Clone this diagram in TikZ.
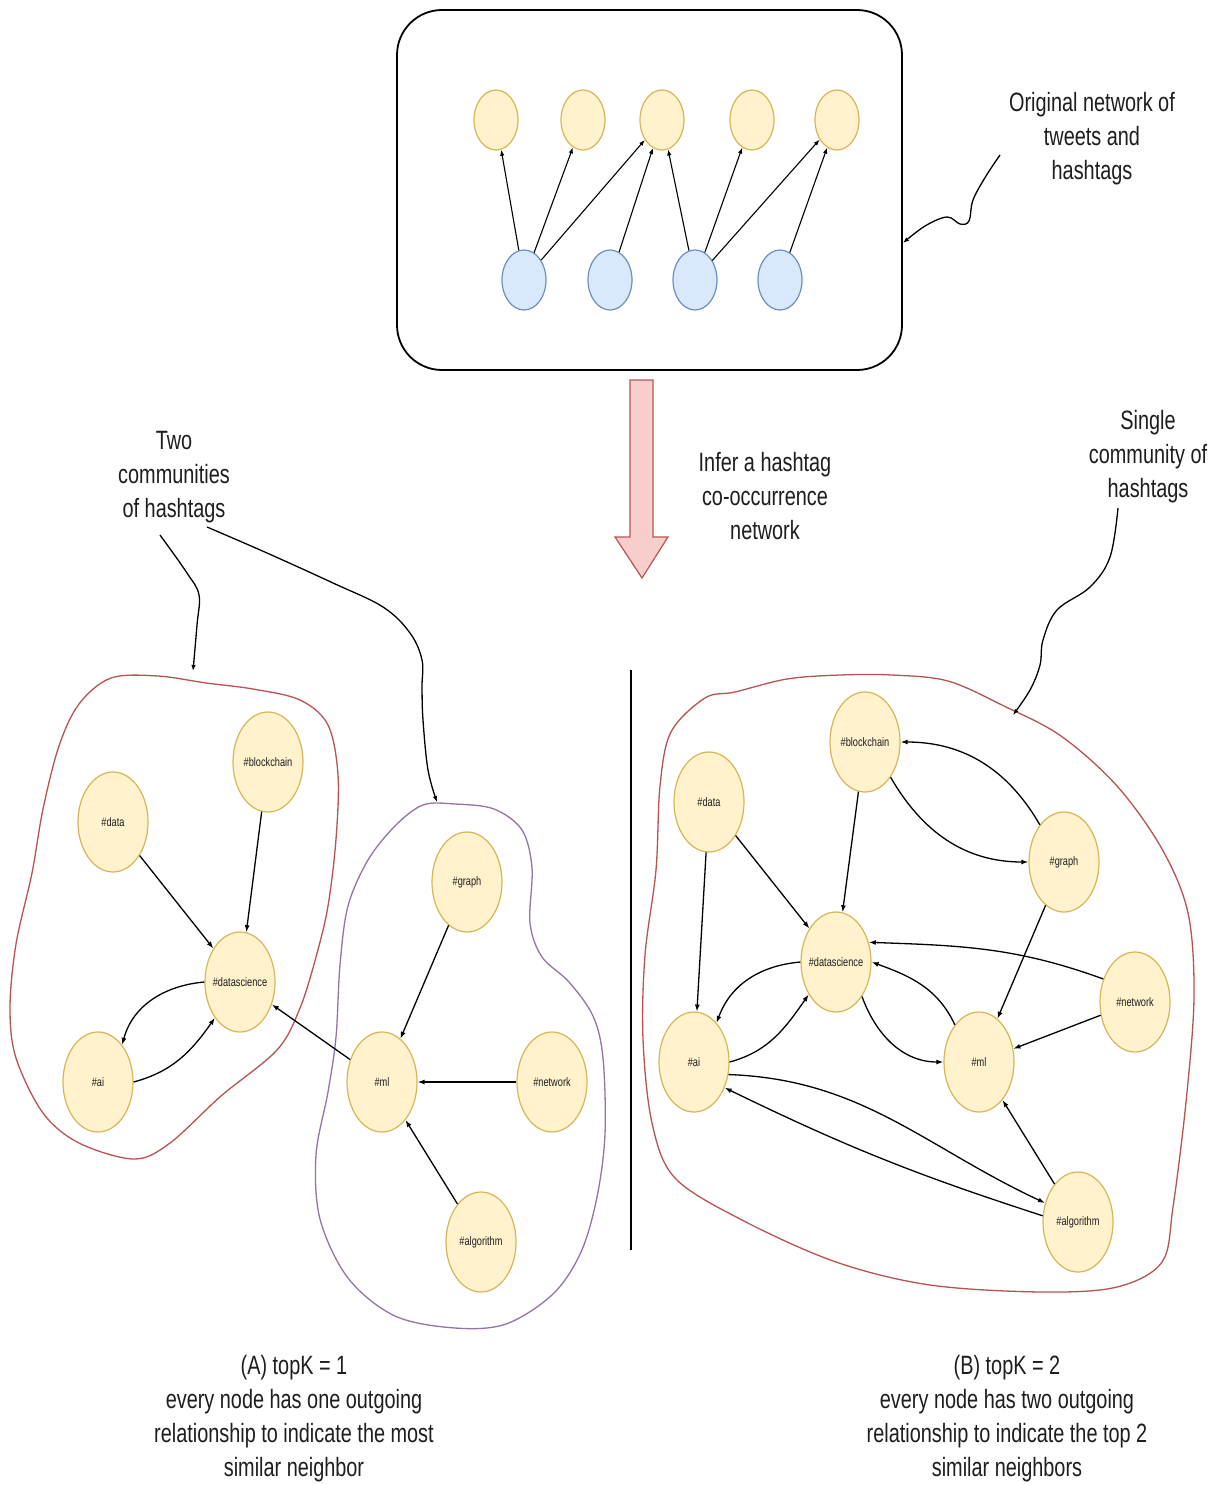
\documentclass[tikz,border=0pt]{standalone}
\usepackage{fontspec}
\setmainfont{Liberation Sans}[FakeStretch=0.75]
\usetikzlibrary{arrows.meta,shapes.geometric}

\definecolor{tagfill}{HTML}{FFF2CC}
\definecolor{tagline}{HTML}{D6B656}
\definecolor{twfill}{HTML}{DAE8FC}
\definecolor{twline}{HTML}{6C8EBF}
\definecolor{bigfill}{HTML}{F8CECC}
\definecolor{bigline}{HTML}{B85450}
\definecolor{commred}{HTML}{B85450}
\definecolor{commpurple}{HTML}{9673A6}
\definecolor{txtcol}{HTML}{1E1E1E}

\begin{document}
\begin{tikzpicture}[x=1pt,y=1pt,
  tag/.style={ellipse, draw=tagline, fill=tagfill, line width=1.2pt,
    minimum width=70pt, minimum height=100pt, inner sep=0pt},
  taglabel/.style={font=\fontsize{12.3}{14}\selectfont, text=txtcol, inner sep=0pt},
  hashtag/.style={ellipse, draw=tagline, fill=tagfill, line width=1.2pt,
    minimum width=44pt, minimum height=60pt, inner sep=0pt},
  tweet/.style={ellipse, draw=twline, fill=twfill, line width=1.2pt,
    minimum width=44pt, minimum height=60pt, inner sep=0pt},
  link/.style={line width=1.3pt, -{Latex[length=7pt,width=5pt]}},
  thinlink/.style={line width=1.1pt, -{Latex[length=6pt,width=4.5pt]}},
  note/.style={line width=1.3pt, -{Latex[length=6pt,width=4.5pt]}},
  caption/.style={align=center, text=txtcol, inner sep=0pt,
    font=\fontsize{26.5}{34}\selectfont},
  community/.style={line width=1.3pt, smooth cycle, tension=0.55}
]
\useasboundingbox (0,0) rectangle (1217,-1485);
\fill[white] (0,0) rectangle (1217,-1485);

% ---------- original bipartite network ----------
\node[draw, line width=1.8pt, rounded corners=45pt, minimum width=505pt,
      minimum height=360pt, inner sep=0pt] (netbox) at (649.5,-190) {};

\node[hashtag] (y1) at (496,-120) {};
\node[hashtag] (y2) at (583,-120) {};
\node[hashtag] (y3) at (662,-120) {};
\node[hashtag] (y4) at (752,-120) {};
\node[hashtag] (y5) at (837,-120) {};
\node[tweet] (b1) at (524,-280) {};
\node[tweet] (b2) at (610,-280) {};
\node[tweet] (b3) at (695,-280) {};
\node[tweet] (b4) at (780,-280) {};

\draw[thinlink] (b1) -- (y1);
\draw[thinlink] (b1) -- (y2);
\draw[thinlink] (b1) -- (y3);
\draw[thinlink] (b2) -- (y3);
\draw[thinlink] (b3) -- (y3);
\draw[thinlink] (b3) -- (y4);
\draw[thinlink] (b3) -- (y5);
\draw[thinlink] (b4) -- (y5);

\node[caption] (origtxt) at (1092,-139) {Original network of\\tweets and\\hashtags};
\coordinate (origtail) at (1000,-155);
\coordinate (boxpt) at (903,-243);
\draw[note] plot[smooth, tension=0.6] coordinates {(origtail) (986,-176) (973,-200)
  (969,-221) (960,-224) (947,-217) (925,-226) (boxpt)};

% ---------- inference arrow ----------
\draw[draw=bigline, fill=bigfill, line width=1.2pt, line join=miter]
  (630,-380) -- (653,-380) -- (653,-537) -- (668,-537) -- (642,-578)
  -- (615,-537) -- (630,-537) -- cycle;
\node[caption] (infertxt) at (765,-496) {Infer a hashtag\\co-occurrence\\network};

% ---------- divider ----------
\coordinate (divtop) at (631,-670);
\coordinate (divbot) at (631,-1250);
\draw[line width=1.3pt] (divtop) -- (divbot);

% ---------- community outlines ----------
\draw[commred, community] plot coordinates {(111,-678) (158,-676) (206,-683)
  (253,-689) (300,-700) (328,-725) (338,-775) (336,-839) (328,-906) (316,-957)
  (300,-1008) (277,-1050) (221,-1096) (170,-1143) (134,-1159) (79,-1143)
  (43,-1113) (16,-1058) (10,-1008) (16,-944) (32,-873) (43,-809) (59,-746)
  (79,-704)};
\draw[commpurple, community] plot coordinates {(423,-805) (455,-804) (494,-809)
  (522,-830) (532,-868) (530,-923) (542,-957) (569,-982) (593,-1016)
  (603,-1058) (605,-1134) (597,-1197) (581,-1252) (553,-1294) (506,-1324)
  (455,-1328) (395,-1316) (348,-1278) (320,-1219) (316,-1155) (328,-1092)
  (336,-1037) (340,-965) (348,-906) (368,-860) (395,-826)};
\draw[commred, community] plot coordinates {(705,-698) (735,-692) (787,-679)
  (840,-675) (892,-675) (948,-681) (1004,-706) (1061,-736) (1117,-786)
  (1162,-849) (1188,-913) (1194,-997) (1186,-1102) (1173,-1207) (1162,-1262)
  (1117,-1287) (1042,-1292) (930,-1285) (836,-1262) (742,-1220) (675,-1178)
  (652,-1123) (643,-1039) (645,-955) (656,-870) (660,-786) (671,-732)};

% ---------- (A) topK = 1 ----------
\node[tag, label={[taglabel]center:\#blockchain}] (lblock) at (268,-762) {};
\node[tag, label={[taglabel]center:\#data}] (ldata) at (113,-822) {};
\node[tag, label={[taglabel]center:\#datascience}] (lds) at (240,-982) {};
\node[tag, label={[taglabel]center:\#ai}] (lai) at (98,-1082) {};
\node[tag, label={[taglabel]center:\#graph}] (lgraph) at (467,-882) {};
\node[tag, label={[taglabel]center:\#ml}] (lml) at (382,-1082) {};
\node[tag, label={[taglabel]center:\#network}] (lnet) at (552,-1082) {};
\node[tag, label={[taglabel]center:\#algorithm}] (lalgo) at (481,-1242) {};

\draw[link] (ldata) -- (lds);
\draw[link] (lblock) -- (lds);
\draw[link] (lds.west) to[out=185,in=75] (lai.57);
\draw[link] (lai.east) to[out=15,in=235] (lds.235);
\draw[link] (lml) -- (lds);
\draw[link] (lgraph) -- (lml);
\draw[link] (lnet) -- (lml);
\draw[link] (lalgo) -- (lml);

% ---------- (B) topK = 2 ----------
\node[tag, label={[taglabel]center:\#blockchain}] (rblock) at (865,-742) {};
\node[tag, label={[taglabel]center:\#data}] (rdata) at (709,-802) {};
\node[tag, label={[taglabel]center:\#graph}] (rgraph) at (1064,-862) {};
\node[tag, label={[taglabel]center:\#datascience}] (rds) at (836,-962) {};
\node[tag, label={[taglabel]center:\#network}] (rnet) at (1135,-1002) {};
\node[tag, label={[taglabel]center:\#ai}] (rai) at (694,-1062) {};
\node[tag, label={[taglabel]center:\#ml}] (rml) at (979,-1062) {};
\node[tag, label={[taglabel]center:\#algorithm}] (ralgo) at (1078,-1222) {};

\draw[link] (rdata) -- (rai);
\draw[link] (rdata) -- (rds);
\draw[link] (rblock) -- (rds);
\draw[link] (rblock.-54) to[out=-60,in=180] (rgraph.west);
\draw[link] (rgraph.123) to[out=120,in=0] (rblock.east);
\draw[link] (rgraph) -- (rml);
\draw[link] (rnet.144) to[out=160,in=-2] (rds.31);
\draw[link] (rnet) -- (rml);
\draw[link] (rds.west) to[out=185,in=70] (rai.60);
\draw[link] (rai.east) to[out=15,in=235] (rds.230);
\draw[link] (rds.-53) to[out=-70,in=180] (rml.west);
\draw[link] (rml.123) to[out=115,in=-20] (rds.east);
\draw[link] (rai.-20) to[out=-2,in=155] (ralgo.150);
\draw[link] (ralgo.170) to[bend left=4] (rai.-40);
\draw[link] (ralgo) -- (rml);

% ---------- annotations ----------
\node[caption] (twotxt) at (174,-477) {Two\\communities\\of hashtags};
\coordinate (twotailA) at (160,-535);
\coordinate (twoheadA) at (193,-671);
\coordinate (twotailB) at (207,-527);
\coordinate (twoheadB) at (437,-802);
\draw[note] plot[smooth, tension=0.6] coordinates {(twotailA) (187,-573)
  (199,-595) (197,-625) (twoheadA)};
\draw[note] plot[smooth, tension=0.6] coordinates {(twotailB) (267,-553)
  (333,-583) (383,-607) (410,-633) (422,-660) (422,-687) (423,-720)
  (428,-770) (twoheadB)};

\node[caption] (singletxt) at (1148,-457) {Single\\community of\\hashtags};
\coordinate (singletail) at (1118,-508);
\coordinate (singlehead) at (1013,-715);
\draw[note] plot[smooth, tension=0.6] coordinates {(singletail) (1110,-557)
  (1090,-587) (1057,-610) (1043,-640) (1040,-665) (1030,-690) (singlehead)};

\node[caption] (captA) at (294,-1419) {(A) topK = 1\\every node has one outgoing\\relationship to indicate the most\\similar neighbor};
\node[caption] (captB) at (1007,-1419) {(B) topK = 2\\every node has two outgoing\\relationship to indicate the top 2\\similar neighbors};
\end{tikzpicture}
\end{document}
